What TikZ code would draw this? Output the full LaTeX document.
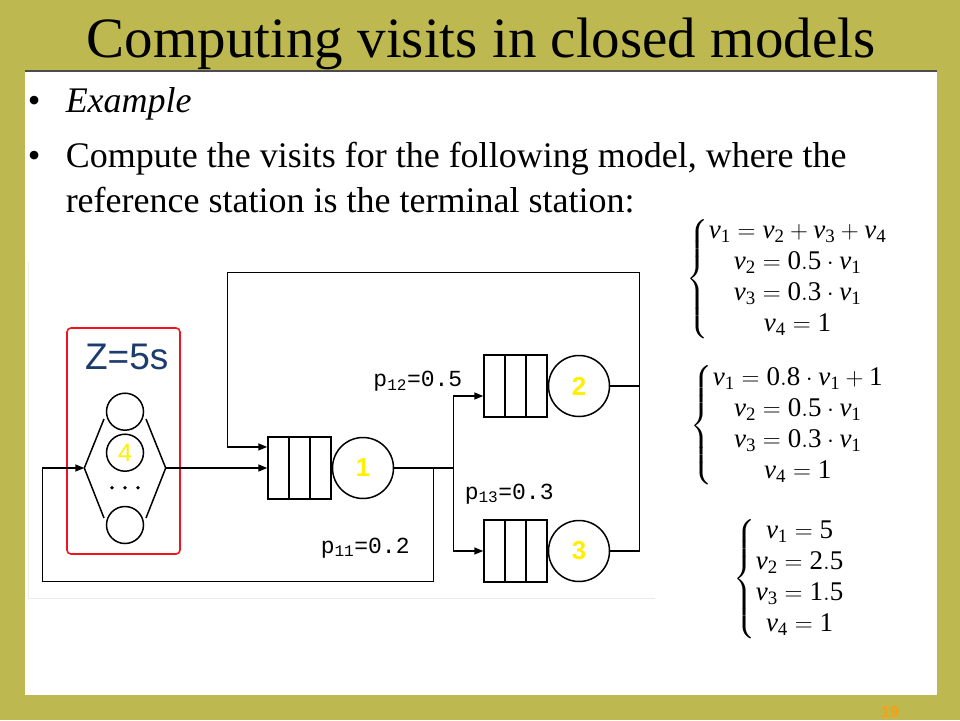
\documentclass[tikz,border=0pt]{standalone}
\usepackage{fontspec}
\setmainfont{Liberation Serif}
\setsansfont{Liberation Sans}
\setmonofont{Liberation Mono}
\usepackage{amsmath}
\usetikzlibrary{arrows.meta,calc,positioning}
\definecolor{slideolive}{RGB}{189,184,80}
\definecolor{zblue}{RGB}{28,60,110}
\definecolor{boxred}{RGB}{240,20,30}
\definecolor{numyellow}{RGB}{255,240,0}
\definecolor{pageorange}{RGB}{247,160,20}
\newcommand{\vis}[1]{\mathit{v}_{\mathrm{#1}}}
\newcommand{\num}[1]{\mathrm{#1}}

\begin{document}
\begin{tikzpicture}[x=1pt, y=-1pt, line width=1.5pt, >={Triangle[length=9pt,width=7pt]}]
    \tikzstyle{queue}=[draw, rectangle, minimum width=63pt, minimum height=62pt, inner sep=0pt,
        path picture={\foreach \k in {1,2}
            \draw ($(path picture bounding box.south west)!\k/3!(path picture bounding box.south east)$) --
                  ($(path picture bounding box.north west)!\k/3!(path picture bounding box.north east)$);}]
    \tikzstyle{server}=[draw, circle, minimum size=61pt, inner sep=0pt, text=numyellow, font=\sffamily\bfseries\fontsize{26}{26}\selectfont]
    \tikzstyle{thinker}=[draw, circle, minimum size=37pt, inner sep=0pt, text=numyellow, font=\sffamily\fontsize{25}{25}\selectfont]
    \tikzstyle{prob}=[anchor=base west, inner sep=0pt, font=\ttfamily\fontsize{23}{23}\selectfont]
    \tikzstyle{visits}=[anchor=west, inner sep=0pt, font=\fontsize{27}{31}\selectfont]
    \tikzstyle{bulletline}=[anchor=base west, inner sep=0pt, font=\fontsize{36}{45}\selectfont]

    % Slide background
    \path[clip] (0,0) rectangle (960,720);
    \fill[slideolive] (0,0) rectangle (960,720);
    \fill[white] (25,71) rectangle (937,695);
    \draw[black!70, line width=1.2pt] (25,71) -- (937,71);
    \draw[black!8, line width=1pt] (28.3,262) |- (655,598);

    \node[anchor=base, inner sep=0pt, font=\fontsize{57}{57}\selectfont] (title) at (481,57) {Computing visits in closed models};

    % Bullets
    \foreach \y in {112,167}
        \node[bulletline] at (27,\y) {\textbullet};
    \node[bulletline] (ex) at (65,112) {\textit{Example}};
    \node[bulletline] (line1) at (65,167) {Compute the visits for the following model, where the};
    \node[bulletline] (line2) at (65,212) {reference station is the terminal station:};

    % Draw the delay station
    \node[draw=boxred, rounded corners=4pt, minimum width=113pt, minimum height=226pt, line width=1.6pt] (zbox) at (123.5,441) {};
    \node[font=\sffamily\fontsize{37}{37}\selectfont, text=zblue] (Z) at (126.7,357) {Z=5s};
    \foreach \name/\y/\txt in {T1/411.7/, T2/452.7/4, T3/525/}
        \node[thinker] (\name) at (125,\y) {\txt};
    \foreach \x in {112,125,138}
        \fill (\x,487.7) circle (1.9pt);
    \coordinate (Fin) at (84.3,468);
    \coordinate (Fout) at (165.7,468);
    \coordinate (FinT) at (104,419);
    \coordinate (FinB) at (104,518);
    \coordinate (FoutT) at (146,419);
    \coordinate (FoutB) at (146,518);
    \draw (FinT) -- (Fin) -- (FinB);
    \draw (FoutT) -- (Fout) -- (FoutB);

    % Draw the queueing stations
    \node[queue] (Q1) at (299.5,468) {};
    \node[server, right=0pt of Q1] (S1) {1};
    \foreach \i/\y in {2/386,3/551} {
        \node[queue] (Q\i) at (515.5,\y) {};
        \node[server, right=0pt of Q\i] (S\i) {\i};
    }

    % Connect the stations
    \coordinate (Split) at (453.3,468);
    \coordinate (Back) at (433.3,468);
    \coordinate (TopR) at (639.3,272.7);
    \coordinate (TopL) at (227.7,272.7);
    \draw[->] (Fout) -- (Q1.west);
    \draw (S1.east) -- (Split);
    \draw[->] (Split) |- ($(Q2.west)+(0,10)$);
    \draw[->] (Split) |- (Q3.west);
    \draw[->] (Back) |- (42.3,581.7) |- (Fin);
    \draw (S2.east) -- (S2.east -| TopR);
    \draw[->] (S3.east) -| (TopR) -- (TopL) |- ($(Q1.north west)+(0,10.7)$);

    \node[prob] (p12) at (372.7,386.7) {p\textsubscript{12}=0.5};
    \node[prob] (p13) at (464,499) {p\textsubscript{13}=0.3};
    \node[prob] (p11) at (320,553) {p\textsubscript{11}=0.2};

    % The visit equations
    \node[visits] (sys1) at (686,279) {$\left\{\begin{array}{@{}c@{}}
        \vis1 = \vis2 + \vis3 + \vis4\\ \vis2 = \num{0.5}\cdot \vis1\\ \vis3 = \num{0.3}\cdot \vis1\\ \vis4 = \num{1}\end{array}\right.$};
    \node[visits] (sys2) at (690,425.5) {$\left\{\begin{array}{@{}c@{}}
        \vis1 = \num{0.8}\cdot \vis1 + \num{1}\\ \vis2 = \num{0.5}\cdot \vis1\\ \vis3 = \num{0.3}\cdot \vis1\\ \vis4 = \num{1}\end{array}\right.$};
    \node[visits] (sys3) at (733,579) {$\left\{\begin{array}{@{}c@{}}
        \vis1 = \num{5}\\ \vis2 = \num{2.5}\\ \vis3 = \num{1.5}\\ \vis4 = \num{1}\end{array}\right.$};

    \node[anchor=north, inner sep=0pt, text=pageorange, font=\sffamily\bfseries\fontsize{16}{16}\selectfont] (page) at (890,706) {19};
\end{tikzpicture}
\end{document}
